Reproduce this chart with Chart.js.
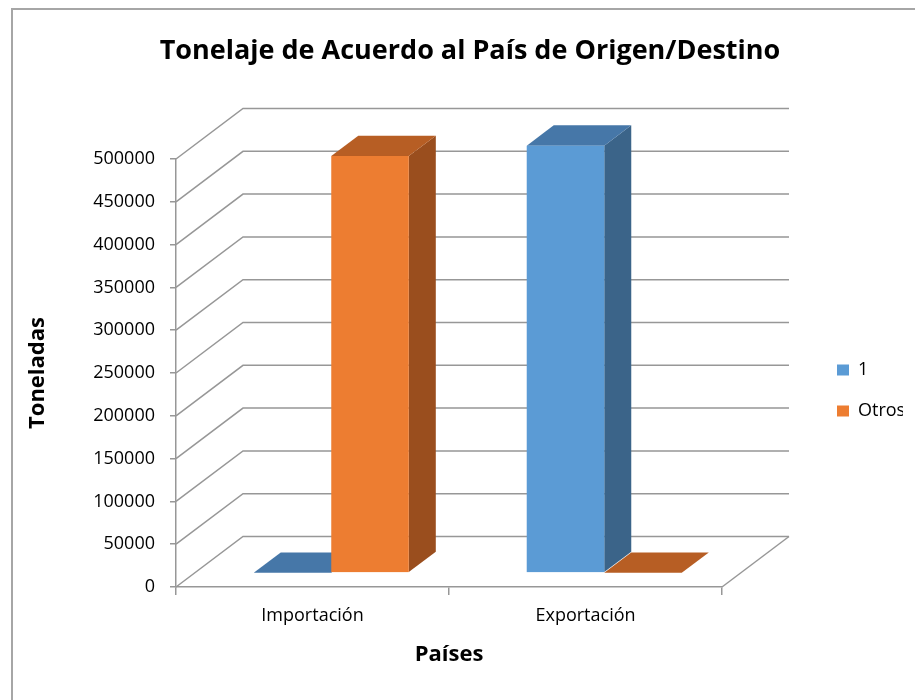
<!DOCTYPE html>
<html>
<head>
<meta charset="utf-8">
<script src="https://cdn.jsdelivr.net/npm/chart.js"></script>
<style>
  html, body { margin: 0; padding: 0; background: #fff; }
</style>
</head>
<body>
<canvas id="tonnageChart" width="915" height="700"></canvas>
<script>
// Data
const categories = ["Importación", "Exportación"];
const seriesNames = ["1", "Otros"];
const serie1 = [0, 499000];
const serieOtros = [487000, 0];
const yTicks = [0, 50000, 100000, 150000, 200000, 250000, 300000, 350000, 400000, 450000, 500000];

// 3D look
const depth = { dx: 67, dy: -50.5 };      // full depth of the box (floor / walls)
const barFront = 0.28;                    // bars start at this fraction of the depth
const barBack = 0.683;                    // ...and end here
const gridColor = "#979797";
const faces = [
  { front: "#5b9bd5", top: "#4677a8", side: "#3b6489" },
  { front: "#ed7d31", top: "#b75e24", side: "#9a4e1e" },
];

const FONT = "Open Sans";

// draws the walls, floor and the bars as boxes
const box3d = {
  id: "box3d",
  beforeDraw(chart) {
    const ctx = chart.ctx;
    ctx.save();
    ctx.fillStyle = "#fff";
    ctx.fillRect(0, 0, chart.width, chart.height);
    // frame of the chart object (only top and left are visible)
    ctx.strokeStyle = "#a6a6a6";
    ctx.lineWidth = 2;
    ctx.beginPath();
    ctx.moveTo(12, chart.height);
    ctx.lineTo(12, 9);
    ctx.lineTo(chart.width, 9);
    ctx.stroke();
    ctx.restore();
  },
  beforeDatasetsDraw(chart) {
    const { ctx, chartArea: a, scales: { y } } = chart;
    ctx.save();
    ctx.strokeStyle = gridColor;
    ctx.lineWidth = 1.5;
    // left wall + back wall gridlines
    y.ticks.forEach((t) => {
      const py = y.getPixelForValue(t.value);
      ctx.beginPath();
      ctx.moveTo(a.left, py);
      ctx.lineTo(a.left + depth.dx, py + depth.dy);
      ctx.lineTo(a.right + depth.dx, py + depth.dy);
      ctx.stroke();
    });
    // right edge of the floor
    const y0 = y.getPixelForValue(0);
    ctx.beginPath();
    ctx.moveTo(a.right, y0);
    ctx.lineTo(a.right + depth.dx, y0 + depth.dy);
    ctx.stroke();

    // bars, left to right so the front faces hide what is behind
    const fx = depth.dx * barFront, fy = depth.dy * barFront;
    const bx = depth.dx * (barBack - barFront), by = depth.dy * (barBack - barFront);
    categories.forEach((c, i) => {
      chart.data.datasets.forEach((ds, j) => {
        const el = chart.getDatasetMeta(j).data[i];
        const { x, y: top, base, width } = el.getProps(["x", "y", "base", "width"], true);
        const x0 = x - width / 2 + fx, x1 = x + width / 2 + fx;
        const yt = top + fy, yb = base + fy;
        const f = faces[j];
        // side
        ctx.fillStyle = f.side;
        ctx.beginPath();
        ctx.moveTo(x1, yt);
        ctx.lineTo(x1 + bx, yt + by);
        ctx.lineTo(x1 + bx, yb + by);
        ctx.lineTo(x1, yb);
        ctx.closePath();
        ctx.fill();
        // top
        ctx.fillStyle = f.top;
        ctx.beginPath();
        ctx.moveTo(x0, yt);
        ctx.lineTo(x1, yt);
        ctx.lineTo(x1 + bx, yt + by);
        ctx.lineTo(x0 + bx, yt + by);
        ctx.closePath();
        ctx.fill();
        // front
        if (yb - yt > 0.5) {
          ctx.fillStyle = f.front;
          ctx.fillRect(x0, yt, x1 - x0, yb - yt);
        }
      });
    });
    ctx.restore();
    return false;
  },
};

document.addEventListener("DOMContentLoaded", function () {
  const ctx = document.getElementById("tonnageChart").getContext("2d");

  const data = {
    labels: categories,
    datasets: [
      { label: seriesNames[0], data: serie1, backgroundColor: faces[0].front, xAxisID: "x", yAxisID: "y" },
      { label: seriesNames[1], data: serieOtros, backgroundColor: faces[1].front, xAxisID: "x", yAxisID: "y" },
    ],
  };

  new Chart(ctx, {
    type: "bar",
    data: data,
    plugins: [box3d],
    options: {
      responsive: false,
      animation: false,
      categoryPercentage: 0.568,
      barPercentage: 1,
      layout: { padding: { left: 37, top: 10, right: 12, bottom: 20 } },
      plugins: {
        title: {
          display: true,
          text: "Tonelaje de Acuerdo al País de Origen/Destino",
          color: "#000",
          font: { family: FONT, size: 27, weight: "bold" },
          padding: { top: 24.8, bottom: 91.8 },
        },
        legend: {
          position: "right",
          maxWidth: 89,
          title: { display: true, text: "", font: { size: 10 }, padding: { top: 79, bottom: 0 } },
          labels: {
            boxWidth: 12,
            boxHeight: 11,
            padding: 23,
            color: "#000",
            font: { family: FONT, size: 18 },
          },
        },
        tooltip: { enabled: false },
      },
      scales: {
        x: {
          type: "category",
          offset: true,
          afterFit: (s) => { s.height = 93; },
          grid: { drawOnChartArea: false, drawTicks: true, tickLength: 8, color: gridColor, lineWidth: 1.5, offset: true },
          border: { display: true, color: gridColor, width: 1.5 },
          ticks: { color: "#000", padding: 10, font: { family: FONT, size: 18 } },
          title: {
            display: true,
            text: "Países",
            color: "#000",
            font: { family: FONT, size: 22, weight: "bold" },
            padding: { top: 0, bottom: 11.8 },
          },
        },
        y: {
          type: "linear",
          position: "left",
          min: 0,
          max: 500000,
          afterBuildTicks: (s) => { s.ticks = yTicks.map((v) => ({ value: v })); },
          afterFit: (s) => { s.width = 139; },
          grid: { drawOnChartArea: false, drawTicks: true, tickLength: 6, color: gridColor, lineWidth: 1.5 },
          border: { display: true, color: gridColor, width: 1.5 },
          ticks: { color: "#000", padding: 15, font: { family: FONT, size: 18 }, callback: (v) => String(v) },
          title: {
            display: true,
            text: "Toneladas",
            color: "#000",
            font: { family: FONT, size: 22, weight: "bold" },
            padding: { top: -12.2, bottom: 0 },
          },
        },
        // empty axis, only holds the gap between plot and legend
        gap: {
          type: "linear",
          position: "right",
          afterFit: (s) => { s.width = 92; },
          grid: { display: false },
          border: { display: false },
          ticks: { display: false },
        },
      },
    },
  });
});
</script>
</body>
</html>
